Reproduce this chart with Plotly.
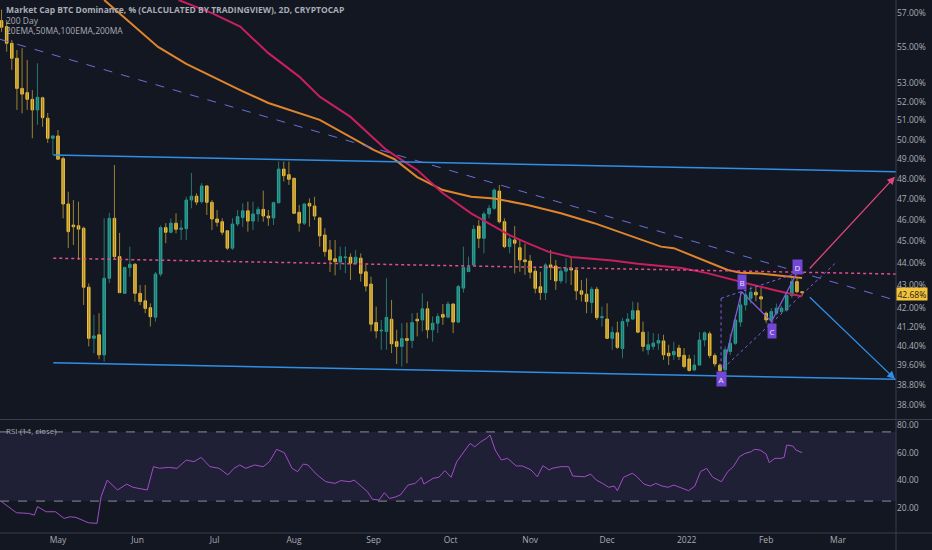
import math
import pandas as pd
import plotly.graph_objects as go

# ---------------- data ----------------
start_date = "2021-04-09"          # first 2D candle
opens = [56.55, 56.20, 55.24, 54.39, 52.72, 52.49, 52.13, 51.56, 52.21, 51.12,
         50.07, 50.19, 49.03, 46.78, 45.77, 45.74, 45.62, 42.92, 40.71, 40.86,
         40.02, 43.32, 46.09, 44.30, 42.65, 43.80, 43.95, 42.65, 42.32, 42.02,
         41.61, 43.51, 45.65, 45.43, 45.86, 45.57, 45.60, 46.97, 47.16, 46.89,
         47.66, 46.86, 46.06, 45.93, 45.50, 44.69, 45.82, 46.13, 46.45, 45.96,
         46.30, 46.52, 46.20, 46.11, 46.84, 48.50, 48.22, 48.04, 46.38, 45.86,
         46.81, 46.68, 46.11, 45.30, 44.61, 44.20, 44.05, 44.25, 44.27, 44.00,
         44.23, 43.61, 43.06, 41.38, 41.02, 41.00, 41.52, 40.57, 40.37, 40.70,
         40.62, 41.52, 41.49, 41.97, 41.07, 41.35, 41.73, 41.61, 42.18, 41.40,
         42.88, 43.62, 43.92, 45.72, 45.15, 46.30, 46.57, 47.41, 45.93, 44.76,
         45.07, 44.71, 44.15, 44.10, 43.64, 42.94, 42.68, 43.92, 43.87, 43.20,
         43.64, 43.77, 43.69, 42.76, 42.61, 42.25, 42.83, 41.59, 41.53, 40.71,
         40.94, 40.28, 41.42, 41.53, 41.89, 40.97, 40.23, 40.37, 40.51, 40.60,
         40.09, 40.02, 40.30, 40.00, 39.85, 39.40, 39.60, 40.64, 40.90, 39.99,
         39.60, 39.40, 40.16, 40.50, 41.40, 42.14, 42.43, 42.70, 42.50, 41.78,
         41.49, 41.78, 41.85, 41.92, 42.55, 43.17, 42.72]
highs = [57.20, 56.59, 55.43, 54.86, 54.96, 54.30, 52.63, 54.11, 52.27, 51.40,
         50.19, 50.50, 49.13, 47.38, 46.97, 46.89, 45.69, 43.09, 41.71, 41.78,
         46.09, 46.35, 48.70, 45.40, 43.85, 44.76, 44.01, 43.02, 43.02, 42.21,
         43.60, 45.75, 45.86, 46.09, 46.33, 46.01, 47.13, 48.30, 47.30, 47.80,
         47.70, 46.97, 46.49, 46.09, 45.54, 46.09, 46.49, 46.81, 46.89, 46.89,
         46.65, 47.43, 46.49, 46.89, 48.88, 48.88, 48.88, 48.04, 46.73, 46.81,
         47.05, 47.13, 46.16, 45.62, 45.07, 45.07, 44.76, 44.76, 44.45, 44.61,
         44.45, 43.92, 43.39, 42.07, 41.49, 43.32, 42.36, 41.07, 41.35, 41.38,
         41.78, 41.80, 42.65, 42.29, 41.64, 41.78, 42.18, 42.29, 42.21, 43.02,
         44.76, 44.30, 45.77, 46.01, 46.41, 46.73, 47.54, 47.71, 46.09, 45.23,
         45.72, 45.10, 44.89, 44.38, 43.84, 43.61, 44.00, 44.61, 44.15, 43.84,
         44.23, 44.27, 43.77, 43.24, 43.32, 42.94, 42.94, 42.07, 42.21, 41.21,
         41.42, 41.57, 41.78, 42.29, 42.25, 41.42, 41.00, 40.93, 40.90, 40.86,
         40.44, 40.57, 40.44, 40.30, 40.02, 40.02, 40.97, 41.00, 41.00, 40.09,
         39.67, 40.37, 40.90, 41.71, 42.71, 42.80, 42.95, 43.00, 42.90, 41.85,
         42.00, 42.20, 42.10, 42.60, 43.42, 43.33, 42.75]
lows = [55.90, 54.76, 53.74, 51.56, 51.38, 51.56, 50.07, 50.77, 50.67, 49.83,
        49.21, 48.96, 46.09, 44.69, 44.84, 44.15, 42.14, 40.37, 40.09, 39.84,
        39.74, 43.11, 44.15, 42.66, 42.62, 43.39, 42.28, 42.14, 41.78, 41.21,
        41.42, 43.40, 44.92, 45.38, 45.38, 45.07, 45.07, 46.57, 46.73, 46.80,
        46.25, 45.54, 45.70, 45.30, 44.61, 44.61, 45.72, 45.69, 45.46, 45.54,
        45.93, 45.93, 45.73, 45.77, 46.81, 47.88, 47.71, 46.30, 45.46, 45.77,
        45.69, 46.01, 44.76, 44.30, 43.60, 43.45, 43.69, 43.55, 43.24, 43.93,
        43.17, 42.73, 41.00, 40.71, 40.23, 40.23, 40.09, 39.64, 39.54, 39.67,
        40.30, 40.79, 41.00, 40.71, 40.57, 40.93, 41.28, 41.57, 40.93, 41.35,
        42.68, 43.60, 43.85, 44.69, 44.45, 46.09, 46.49, 45.85, 44.69, 44.45,
        43.54, 43.61, 43.47, 43.31, 42.65, 42.36, 42.36, 43.24, 42.80, 43.09,
        43.09, 43.02, 42.36, 42.29, 41.78, 41.78, 41.49, 41.21, 40.71, 40.23,
        40.26, 39.88, 41.21, 41.49, 40.93, 40.16, 40.02, 40.23, 40.23, 39.81,
        39.60, 39.81, 39.81, 39.47, 39.33, 39.35, 39.60, 40.37, 39.88, 39.54,
        39.26, 39.33, 40.02, 40.44, 41.20, 41.90, 42.20, 42.30, 41.90, 41.35,
        41.20, 41.70, 41.78, 41.85, 42.45, 42.65, 42.53]
closes = [56.17, 55.24, 54.39, 52.72, 52.41, 52.13, 51.56, 52.24, 51.15, 50.07,
          50.19, 49.00, 46.78, 45.46, 45.69, 45.58, 42.92, 40.71, 40.81, 40.02,
          43.32, 46.09, 44.30, 42.68, 43.80, 43.95, 42.65, 42.29, 41.99, 41.63,
          43.51, 45.65, 45.43, 45.86, 45.57, 45.62, 46.97, 47.16, 46.87, 47.66,
          46.86, 46.06, 45.90, 45.43, 44.69, 45.82, 46.17, 46.45, 45.96, 46.30,
          46.52, 46.20, 46.11, 46.84, 48.50, 48.17, 47.99, 46.33, 45.86, 46.78,
          46.68, 46.20, 45.26, 44.53, 44.15, 44.07, 44.30, 44.28, 44.00, 44.27,
          43.54, 42.97, 41.31, 41.02, 41.05, 41.60, 40.48, 40.37, 40.70, 40.62,
          41.38, 41.45, 41.97, 41.07, 41.35, 41.64, 41.61, 42.18, 41.40, 42.95,
          43.80, 43.80, 45.57, 45.15, 46.30, 46.57, 47.46, 45.93, 44.76, 45.12,
          44.92, 44.15, 44.07, 43.59, 42.87, 42.68, 43.92, 43.82, 43.20, 43.64,
          43.77, 43.69, 42.76, 42.61, 42.29, 42.83, 41.59, 41.63, 40.71, 40.96,
          40.33, 41.42, 41.53, 41.89, 40.97, 40.37, 40.44, 40.51, 40.62, 40.02,
          39.98, 40.16, 39.95, 39.54, 39.38, 39.60, 40.64, 40.94, 39.99, 39.65,
          39.37, 40.23, 40.50, 41.49, 42.14, 42.58, 42.70, 42.58, 42.40, 41.49,
          41.85, 42.00, 42.00, 42.55, 43.17, 42.72, 42.68]

# moving averages (orange 200MA, crimson 100EMA)
ma200_dates = ["2021-05-19", "2021-06-09", "2021-06-20", "2021-07-06", "2021-07-11",
               "2021-07-22", "2021-08-03", "2021-08-11", "2021-09-01", "2021-09-09",
               "2021-09-18", "2021-09-28", "2021-10-09", "2021-10-18", "2021-10-31",
               "2021-11-13", "2021-11-26", "2021-12-09", "2021-12-22", "2021-12-27",
               "2022-01-09", "2022-01-17", "2022-01-22", "2022-01-30", "2022-02-04",
               "2022-02-15"]
ma200_vals = [57.77, 55.03, 54.07, 52.96, 52.63, 51.93, 51.40, 51.03, 49.47, 49.01,
              48.10, 47.46, 47.13, 47.05, 46.73, 46.33, 45.86, 45.30, 44.76, 44.69,
              44.07, 43.69, 43.57, 43.53, 43.47, 43.33]
ema100_dates = ["2021-06-17", "2021-06-30", "2021-07-11", "2021-07-22", "2021-08-03",
                "2021-08-11", "2021-08-23", "2021-09-06", "2021-09-18", "2021-09-28",
                "2021-10-09", "2021-10-15", "2021-10-24", "2021-10-31", "2021-11-08",
                "2021-11-17", "2021-11-26", "2021-12-03", "2021-12-13", "2021-12-22",
                "2021-12-30", "2022-01-09", "2022-01-19", "2022-01-27", "2022-02-04",
                "2022-02-15"]
ema100_vals = [57.77, 56.99, 56.20, 54.68, 53.37, 52.27, 51.19, 49.47, 48.45, 47.30,
               46.33, 45.93, 45.30, 44.92, 44.53, 44.28, 44.19, 44.12, 43.97, 43.88,
               43.78, 43.55, 43.24, 43.02, 42.80, 42.51]

# drawings
x_start, x_end = "2021-04-08 09:36", "2022-03-23 14:24"
channel_dates = ["2021-04-29 04:00", x_end]
channel_upper = [49.21, 48.37]
channel_mid = [44.23, 43.51]
channel_lower = [39.69, 39.02]
trend_dates = [x_start, x_end]
trend_vals = [55.47, 42.34]

abcd_labels = ["A", "B", "C", "D"]
abcd_dates = ["2022-01-15 07:00", "2022-01-22 10:00", "2022-02-03 02:00", "2022-02-12 22:00"]
abcd_vals = [39.47, 42.72, 41.42, 43.55]
abcd_label_dates = ["2022-01-14 10:00", "2022-01-22 10:00", "2022-02-03 08:00", "2022-02-13 08:00"]
abcd_label_vals = [39.04, 43.15, 41.03, 43.85]
ac_ext_dates = ["2022-01-15 07:00", "2022-02-28 12:00"]
ac_ext_vals = [39.47, 44.06]
bd_ext_dates = ["2022-01-14 10:00", "2022-02-12 22:00"]
bd_ext_vals = [42.43, 43.55]
a_vert_dates = ["2022-01-14 10:00", "2022-01-14 10:00"]
a_vert_vals = [42.43, 39.40]

arrow_start_date, arrow_end_date = "2022-02-17 10:00", "2022-03-23 05:00"
arrow_up_vals = [43.69, 48.12]
arrow_down_vals = [42.54, 39.03]
last_price = 42.68

price_ticks = [57, 55, 53, 52, 51, 50, 49, 48, 47, 46, 45, 44, 43, 42, 41.2, 40.4, 39.6, 38.8, 38]
month_ticks = ["2021-05-01", "2021-06-01", "2021-07-01", "2021-08-01", "2021-09-01", "2021-10-01",
               "2021-11-01", "2021-12-01", "2022-01-01", "2022-02-01", "2022-03-01"]
month_labels = ["May", "Jun", "Jul", "Aug", "Sep", "Oct", "Nov", "Dec", "2022", "Feb", "Mar"]

rsi_pos = [0.0, 2.9, 5.3, 6.4, 7.0, 8.7, 10.5, 12.2, 13.4, 14.5, 16.9, 18.6, 19.4, 20.6, 22.6,
           24.4, 25.6, 28.4, 29.6, 30.8, 32.5, 34.2, 36.0, 37.5, 38.9, 40.6, 42.4, 44.1, 45.3,
           46.4, 47.6, 49.3, 51.0, 52.2, 53.6, 55.1, 56.6, 57.7, 58.8, 59.7, 61.5, 63.2, 65.0,
           66.1, 67.9, 68.7, 70.2, 71.3, 72.3, 73.6, 74.6, 75.6, 76.5, 77.7, 79.2, 80.6, 81.8,
           82.3, 84.1, 85.2, 86.4, 87.6, 88.7, 89.9, 91.3, 92.2, 93.4, 94.5, 95.2, 96.2, 97.4,
           98.6, 100.3, 101.5, 103.2, 104.4, 105.5, 106.7, 107.3, 109.0, 110.5, 111.3, 113.6,
           114.8, 115.9, 117.1, 118.3, 119.4, 120.0, 121.2, 122.9, 123.7, 125.2, 126.4, 127.5,
           128.7, 129.9, 131.0, 132.8, 133.9, 135.1, 136.2, 137.4, 138.6, 140.3, 141.5, 142.6,
           143.8, 144.9, 146.1, 146.7, 147.8, 149.0, 149.6, 150.7, 151.9, 152.5, 153.0, 154.2,
           154.8, 156.0]
rsi_vals = [24.6, 16.6, 16.1, 14.9, 21.0, 17.3, 17.3, 12.5, 13.7, 13.2, 9.4, 8.9, 28.2, 40.2, 33.0,
            37.3, 35.0, 33.0, 49.9, 48.7, 49.4, 48.7, 54.7, 53.5, 56.6, 49.9, 48.7, 43.9, 48.7,
            51.1, 48.7, 51.1, 49.9, 53.5, 62.4, 60.0, 48.7, 46.3, 51.8, 51.1, 43.9, 39.0, 37.8,
            39.8, 39.0, 40.2, 35.4, 31.8, 26.3, 25.8, 31.1, 26.9, 27.7, 29.4, 36.6, 37.8, 42.2,
            37.3, 41.5, 42.2, 47.0, 42.2, 53.5, 59.5, 66.7, 64.3, 67.9, 70.4, 72.8, 61.9, 54.7,
            55.9, 50.4, 50.4, 47.5, 42.6, 50.6, 47.5, 48.7, 49.9, 49.9, 43.1, 42.6,
            44.5, 40.2, 37.8, 35.0, 35.9, 32.5, 42.2, 45.1, 43.1, 37.3, 35.9, 37.8,
            35.9, 35.0, 36.6, 34.2, 32.5, 35.9, 46.3, 48.7, 42.2, 39.0, 46.3, 49.9,
            57.1, 59.5, 60.7, 62.4, 61.9, 59.0, 52.8, 55.9, 55.9, 56.6, 65.5, 64.8,
            61.9, 60.0]
rsi_bands = [25, 75]

# ---------------- styling ----------------
BG = "#131722"
UP, DOWN = "#26a69a", "#f5c338"
UP_WICK, DOWN_WICK = "#2a756e", "#9a8233"
TXT = "#a9acb5"
FONT = "Open Sans"

dates = pd.date_range(start_date, periods=len(closes), freq="2D")
rsi_dates = [pd.Timestamp(start_date) + pd.Timedelta(days=2 * p) for p in rsi_pos]

fig = go.Figure()

# wicks (dimmer than bodies)
for is_up, col in ((True, UP_WICK), (False, DOWN_WICK)):
    xs, ys = [], []
    for d, o, h, l, c in zip(dates, opens, highs, lows, closes):
        if (c >= o) == is_up:
            xs += [d, d, None]
            ys += [l, h, None]
    fig.add_trace(go.Scatter(x=xs, y=ys, mode="lines", line=dict(color=col, width=1),
                             hoverinfo="skip", xaxis="x", yaxis="y"))

# bodies
fig.add_trace(go.Candlestick(
    x=dates, open=opens, close=closes,
    high=[max(o, c) for o, c in zip(opens, closes)],
    low=[min(o, c) for o, c in zip(opens, closes)],
    increasing=dict(line=dict(color=UP, width=1), fillcolor=UP),
    decreasing=dict(line=dict(color=DOWN, width=1), fillcolor=DOWN),
    whiskerwidth=0, hoverinfo="skip", xaxis="x", yaxis="y"))


def line(xv, yv, color, width=1, dash=None, xa="x", ya="y"):
    fig.add_trace(go.Scatter(x=xv, y=yv, mode="lines",
                             line=dict(color=color, width=width, dash=dash),
                             hoverinfo="skip", xaxis=xa, yaxis=ya))


# moving averages
line(ma200_dates, ma200_vals, "#e0852c", 2)
line(ema100_dates, ema100_vals, "#c81f5e", 2)

# channel + trend
line(channel_dates, channel_upper, "#2f8fe6", 1.5)
line(channel_dates, channel_lower, "#2f8fe6", 1.5)
line(channel_dates, channel_mid, "#e0508a", 1.5, "dot")
line(trend_dates, trend_vals, "#6a6fd6", 1, "dash")

# ABCD pattern
line(ac_ext_dates, ac_ext_vals, "#8a5ce0", 1, "dot")
line(bd_ext_dates, bd_ext_vals, "#8a5ce0", 1, "dot")
line(a_vert_dates, a_vert_vals, "#8a5ce0", 1, "dot")
line(abcd_dates, abcd_vals, "#8a5ce0", 1.2)

# RSI
fig.add_shape(type="rect", xref="x2", yref="y2", x0=x_start, x1=x_end,
              y0=rsi_bands[0], y1=rsi_bands[1], fillcolor="rgba(126,87,194,0.12)",
              line=dict(width=0), layer="below")
for b in rsi_bands:
    fig.add_shape(type="line", xref="x2", yref="y2", x0=x_start, x1=x_end, y0=b, y1=b,
                  line=dict(color="#8b8e98", width=1, dash="dash"))
line(rsi_dates, rsi_vals, "#a04ec6", 1, xa="x2", ya="y2")

annotations = []
# arrows
for vals, col in ((arrow_up_vals, "#e0457b"), (arrow_down_vals, "#2f8fe6")):
    annotations.append(dict(x=arrow_end_date, y=math.log10(vals[1]), ax=arrow_start_date,
                            ay=math.log10(vals[0]), xref="x", yref="y", axref="x", ayref="y",
                            showarrow=True, arrowhead=2, arrowsize=1.2, arrowwidth=1.3,
                            arrowcolor=col, text=""))
# pattern labels
for lab, d, v in zip(abcd_labels, abcd_label_dates, abcd_label_vals):
    annotations.append(dict(x=d, y=math.log10(v), xref="x", yref="y", text=lab, showarrow=False,
                            bgcolor="#7446d6", borderpad=1.5,
                            font=dict(family=FONT, size=8, color="#e8e2ff")))
# last price tag
annotations.append(dict(x=1.0, y=math.log10(last_price), xref="paper", yref="y", xanchor="left",
                        yanchor="middle", yshift=-1,
                        text=f"{last_price:.2f}%", showarrow=False, bgcolor="#f5c338",
                        borderpad=0.5, font=dict(family=FONT, size=8.5, color="#131722")))
# legend texts
annotations += [
    dict(x=0.005, y=1 - 10 / 533, xref="paper", yref="paper", xanchor="left", yanchor="middle",
         text="<b>Market Cap BTC Dominance, % (CALCULATED BY TRADINGVIEW), 2D, CRYPTOCAP</b>",
         showarrow=False, font=dict(family=FONT, size=8.5, color=TXT)),
    dict(x=0.005, y=1 - 20.5 / 533, xref="paper", yref="paper", xanchor="left", yanchor="middle",
         text="200 Day", showarrow=False, font=dict(family=FONT, size=8.5, color=TXT)),
    dict(x=0.005, y=1 - 30.5 / 533, xref="paper", yref="paper", xanchor="left", yanchor="middle",
         text="20EMA,50MA,100EMA,200MA", showarrow=False, font=dict(family=FONT, size=8.5, color=TXT)),
    dict(x=0.005, y=(533 - 431) / 533, xref="paper", yref="paper", xanchor="left", yanchor="middle",
         text="RSI (14, close)", showarrow=False, font=dict(family=FONT, size=8, color=TXT)),
]

# pane borders
shapes = [
    dict(type="line", xref="paper", yref="paper", x0=0, x1=932 / 896, y0=(533 - 419.5) / 533,
         y1=(533 - 419.5) / 533, line=dict(color="#3b3f4b", width=1)),
    dict(type="line", xref="paper", yref="paper", x0=0, x1=932 / 896, y0=0, y1=0,
         line=dict(color="#3b3f4b", width=1)),
    dict(type="line", xref="paper", yref="paper", x0=1, x1=1, y0=-17 / 533, y1=1,
         line=dict(color="#3b3f4b", width=1)),
]
for s in shapes:
    fig.add_shape(**s)

price_range = [math.log10(37.45), math.log10(57.77)]
fig.update_layout(
    width=932, height=550, margin=dict(l=0, r=36, t=0, b=17),
    paper_bgcolor=BG, plot_bgcolor=BG, showlegend=False, annotations=annotations,
    xaxis=dict(domain=[0, 1], anchor="y", type="date", range=[x_start, x_end],
               showticklabels=False, showgrid=False, zeroline=False, showline=False,
               rangeslider=dict(visible=False)),
    xaxis2=dict(domain=[0, 1], anchor="y2", type="date", range=[x_start, x_end],
                tickmode="array", tickvals=month_ticks, ticktext=month_labels, ticks="",
                showgrid=False, zeroline=False, showline=False,
                tickfont=dict(family=FONT, size=8.5, color=TXT)),
    yaxis=dict(domain=[(533 - 419) / 533, 1], type="log", range=price_range, side="right",
               tickmode="array", tickvals=price_ticks,
               ticktext=[f"{v:.2f}%" for v in price_ticks], ticks="", showgrid=False,
               zeroline=False, showline=False, tickfont=dict(family=FONT, size=8.5, color=TXT)),
    yaxis2=dict(domain=[0, (533 - 420) / 533], range=[1.95, 83.61], side="right",
                tickmode="array", tickvals=[20, 40, 60, 80],
                ticktext=["20.00", "40.00", "60.00", "80.00"], ticks="", showgrid=False,
                zeroline=False, showline=False, tickfont=dict(family=FONT, size=8.5, color=TXT)),
)

fig.write_html("out.html", config={"displayModeBar": False},
               post_script="document.body.style.margin='0';document.body.style.overflow='hidden';")
